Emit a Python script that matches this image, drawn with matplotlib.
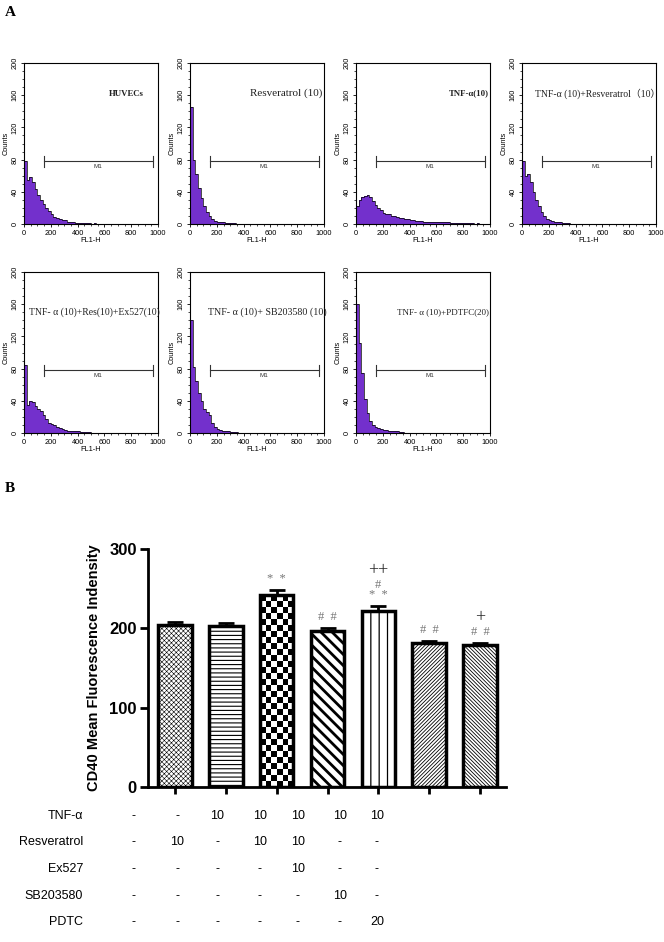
import numpy as np
import matplotlib
matplotlib.use('Agg')
import matplotlib.pyplot as plt
from matplotlib.ticker import MultipleLocator

plt.rcParams['font.family'] = ['Liberation Sans', 'DejaVu Sans']

# Panel A: flow cytometry histograms (counts per 20-unit FL1-H bin)
bin_width = 20
samples = ['HUVECs', 'Resveratrol (10)', 'TNF-α(10)', 'TNF-α (10)+Resveratrol（10）',
           'TNF- α (10)+Res(10)+Ex527(10)', 'TNF- α (10)+ SB203580 (10)', 'TNF- α (10)+PDTFC(20)']
hist_huvec = [78, 55, 58, 52, 44, 36, 30, 25, 20, 16, 12, 9, 8, 6, 5, 5, 3, 2, 2, 1, 1, 1, 1, 1, 1, 0, 1, 0, 0, 0]
hist_res = [145, 80, 62, 45, 32, 22, 15, 10, 6, 4, 3, 2, 2, 1, 1, 1, 1, 0, 0, 0]
hist_tnf = [22, 30, 33, 35, 36, 33, 28, 24, 20, 17, 14, 13, 12, 10, 10, 9, 8, 7, 6, 6, 5, 5, 4, 4, 4,
            3, 3, 3, 3, 2, 2, 2, 2, 2, 2, 1, 1, 1, 1, 1, 1, 1, 1, 1, 0, 1, 0, 0]
hist_tnf_res = [78, 60, 62, 52, 40, 30, 22, 15, 10, 6, 5, 4, 3, 2, 2, 1, 1, 1, 0, 0, 0]
hist_ex527 = [85, 35, 40, 38, 34, 30, 27, 22, 17, 13, 11, 10, 8, 6, 5, 4, 3, 3, 2, 2, 2, 1, 1, 1, 1, 0, 0, 0]
hist_sb = [140, 82, 65, 50, 40, 30, 26, 22, 12, 8, 5, 4, 3, 2, 2, 1, 1, 1, 0, 0, 0]
hist_pdtc = [160, 112, 75, 42, 25, 15, 10, 8, 6, 5, 4, 4, 3, 3, 2, 2, 1, 1, 0, 0, 0]
histograms = [hist_huvec, hist_res, hist_tnf, hist_tnf_res, hist_ex527, hist_sb, hist_pdtc]
gate = (150, 960)
gate_y = 78

# Panel B: CD40 mean fluorescence intensity
cd40_mean = [204, 203, 242, 197, 222, 182, 179]
cd40_err = [4, 4, 6, 4, 6, 2, 3]
marks = [[], [], ['*  *'], ['#  #'], ['*  *', '#', '++'], ['#  #'], ['#  #', '+']]
row_names = ['TNF-α', 'Resveratrol', 'Ex527', 'SB203580', 'PDTC']
row_values = [['-', '-', '10', '10', '10', '10', '10'],
              ['-', '10', '-', '10', '10', '-', '-'],
              ['-', '-', '-', '-', '10', '-', '-'],
              ['-', '-', '-', '-', '-', '10', '-'],
              ['-', '-', '-', '-', '-', '-', '20']]

W, H = 664, 942
fig = plt.figure(figsize=(W / 100, H / 100), dpi=100)

# ---------- panel A ----------
purple = '#7330cc'
lefts = [24, 190, 356, 522, 24, 190, 356]
bottoms = [224, 224, 224, 224, 433, 433, 433]
label_x = [0.89, 0.99, 0.99, 1.03, 1.01, 1.02, 0.99]
label_y = [0.81, 0.81, 0.81, 0.81, 0.75, 0.75, 0.75]
label_size = [6.3, 8.0, 6.3, 7.0, 7.0, 7.2, 6.5]
for i, counts in enumerate(histograms):
    ax = fig.add_axes([lefts[i] / W, 1 - bottoms[i] / H, 134 / W, 161 / H])
    edges = np.arange(len(counts) + 1) * bin_width
    ax.stairs(counts, edges, fill=True, color=purple)
    ax.stairs(counts, edges, color='black', lw=0.5)
    ax.set_xlim(0, 1000)
    ax.set_ylim(0, 200)
    ax.plot(gate, [gate_y, gate_y], color='#333333', lw=0.8)
    for g in gate:
        ax.plot([g, g], [gate_y - 7, gate_y + 7], color='#333333', lw=0.8)
    ax.text(sum(gate) / 2, gate_y - 4, 'M1', ha='center', va='top', fontsize=4.5, color='#333333')
    ax.text(label_x[i], label_y[i], samples[i], transform=ax.transAxes, ha='right', va='center',
            fontsize=label_size[i], family=['Liberation Serif', 'Noto Sans CJK SC'],
            fontweight='bold' if i in (0, 2) else 'normal', color='#222222')
    ax.set_xticks(range(0, 1001, 200))
    ax.set_yticks(range(0, 201, 40))
    ax.xaxis.set_minor_locator(MultipleLocator(50))
    ax.yaxis.set_minor_locator(MultipleLocator(10))
    ax.tick_params(labelsize=5.3, length=2.5, width=0.6, pad=1.5)
    ax.tick_params(which='minor', length=1.5, width=0.5)
    for t in ax.get_yticklabels():
        t.set_rotation(90)
        t.set_va('center')
    ax.set_xlabel('FL1-H', fontsize=5.3, labelpad=0)
    ax.set_ylabel('Counts', fontsize=5.3, labelpad=1)
    for s in ax.spines.values():
        s.set_linewidth(0.8)

fig.text(5 / W, 1 - 12 / H, 'A', fontsize=11, fontweight='bold', family='Liberation Serif', va='center')
fig.text(5 / W, 1 - 488 / H, 'B', fontsize=11, fontweight='bold', family='Liberation Serif', va='center')

# ---------- panel B ----------
axb = fig.add_axes([148 / W, 1 - 787 / H, 358 / W, 238 / H])
x = np.arange(len(cd40_mean))
hatches = ['xxxxxxx', '----', '', '\\\\\\', '||', '/' * 9, '\\' * 9]
hatch_lw = [0.4, 0.8, 1.0, 2.0, 0.9, 0.6, 0.6]
faces = ['white', 'white', 'none', 'white', 'white', 'white', 'white']
bars = axb.bar(x, cd40_mean, width=0.66, color=faces, edgecolor='black', linewidth=2.5, zorder=2)
for b, h, lw in zip(bars, hatches, hatch_lw):
    b.set_hatch(h)
    if hasattr(b, 'set_hatch_linewidth'):
        b.set_hatch_linewidth(lw)
axb.errorbar(x, cd40_mean, yerr=[np.zeros(len(x)), cd40_err], fmt='none', ecolor='black',
             elinewidth=2, capsize=6, capthick=2, zorder=1)

# checkerboard fill for the TNF-α bar
b3 = bars[2]
nrows = int(round(cd40_mean[2] / 7.5))
checker = (np.indices((nrows, 6)).sum(axis=0) % 2)
im = axb.imshow(checker, cmap='gray', extent=[b3.get_x(), b3.get_x() + b3.get_width(), 0, cd40_mean[2]],
                aspect='auto', interpolation='nearest', zorder=1.5)
im.set_clip_path(b3)

for xi, m, v, e in zip(x, marks, cd40_mean, cd40_err):
    for k, s in enumerate(m):
        big = s.startswith('+')
        axb.text(xi, v + e + 6 + k * 13 + (2 if big else 0), s, ha='center', va='bottom',
                 fontsize=13 if big else 9, color='#222222' if big else '#777777',
                 family='Liberation Serif')

axb.set_xlim(-0.53, 6.51)
axb.set_ylim(0, 300)
axb.set_yticks([0, 100, 200, 300])
axb.set_xticks(x)
axb.set_xticklabels([])
axb.tick_params(axis='y', labelsize=12, length=6, width=2, pad=2)
axb.tick_params(axis='x', length=5, width=2)
for t in axb.get_yticklabels():
    t.set_fontweight('bold')
axb.set_ylabel('CD40 Mean Fluorescence Indensity', fontsize=10.5, fontweight='bold', labelpad=6)
axb.spines['top'].set_visible(False)
axb.spines['right'].set_visible(False)
axb.spines['left'].set_linewidth(2)
axb.spines['bottom'].set_linewidth(2)

# treatment table
row_y = [816, 842, 869, 896, 922]
col_x = [133, 177, 217, 260, 298, 340, 377]
for name, vals, ry in zip(row_names, row_values, row_y):
    fig.text(83 / W, 1 - ry / H, name, ha='right', va='center', fontsize=9)
    for v, cx in zip(vals, col_x):
        fig.text(cx / W, 1 - ry / H, v, ha='center', va='center', fontsize=9)

fig.savefig('out.png', dpi=100)
